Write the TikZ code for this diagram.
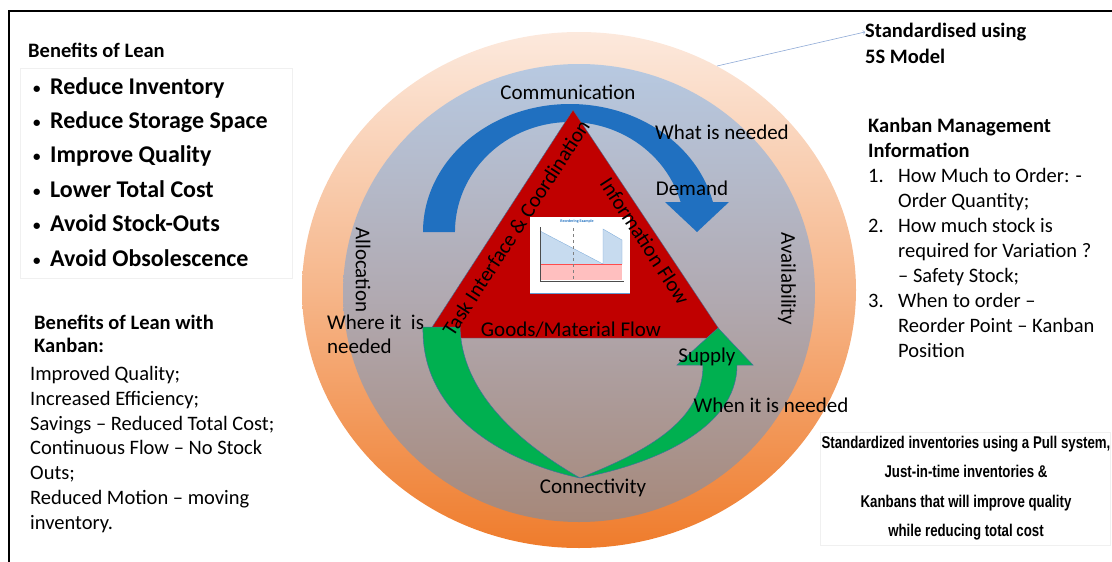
\documentclass[tikz,border=0pt]{standalone}
\usepackage{fontspec}
\setmainfont{Carlito}
\newfontfamily\narrowsans[FakeStretch=0.78]{Liberation Sans}
\usepackage{tikz}
\definecolor{ringtop}{RGB}{252,233,221}
\definecolor{ringmid}{RGB}{246,182,138}
\definecolor{ringbot}{RGB}{239,124,44}
\definecolor{disctop}{RGB}{183,201,225}
\definecolor{discmid}{RGB}{177,170,178}
\definecolor{discbot}{RGB}{166,136,122}
\definecolor{cycleblue}{RGB}{32,112,192}
\definecolor{cyclegreen}{RGB}{0,176,80}
\definecolor{lineblue}{RGB}{65,113,156}
\definecolor{flowred}{RGB}{192,0,0}
\definecolor{pointerblue}{RGB}{143,170,214}
\tikzstyle{lbl} = [inner sep=0pt, font=\fontsize{21}{24}\selectfont]
\tikzstyle{txt} = [inner sep=0pt, anchor=north west, align=left, font=\fontsize{20.5}{24.8}\selectfont]
\tikzstyle{boldtxt} = [txt, font=\fontsize{20.5}{24}\selectfont\bfseries]
\tikzstyle{faint} = [draw=black!6, line width=0.6pt]
\newcommand{\dotitem}{\makebox[17pt][l]{\raisebox{1pt}{\fontsize{15}{15}\selectfont\textbullet}}}

\begin{document}
\begin{tikzpicture}[x=1pt,y=-1pt]
	\useasboundingbox (0,0) rectangle (1112,562);
	\draw[line width=1.6pt] (9,562) -- (9,11) -- (1112,11);
	% rings
	\shade[top color=ringtop, bottom color=ringbot, middle color=ringmid] (579,290) ellipse[x radius=277, y radius=258];
	\shade[top color=disctop, bottom color=discbot, middle color=discmid] (579,293) ellipse[x radius=236, y radius=229];
	% blue arrow
	\fill[cycleblue] (423,232) arc[start angle=180, end angle=346.45, x radius=147, y radius=128] -- (729,202) -- (697,232) -- (665,202) -- (680.6,202) arc[start angle=344.17, end angle=180, x radius=115, y radius=110] -- cycle;
	% triangle
	\filldraw[fill=flowred, draw=lineblue, line width=0.4pt] (573,110) -- (725,338) -- (425,338) -- cycle;
	% reorder chart
	\fill[white] (530,217) rectangle (630,293);
	\draw[cycleblue!70, line width=1pt] (530,293) -- (630,293);
	\fill[red!25] (540,264) rectangle (622,280);
	\fill[cycleblue!25] (540,231) -- (603,264) -- (540,264) -- cycle;
	\fill[cycleblue!25] (603,264) -- (603,229) -- (622,240) -- (622,264) -- cycle;
	\draw[cycleblue!60, line width=0.3pt] (540,231) -- (603,264) -- (603,229) -- (622,240) -- (622,264);
	\draw[red!70, line width=0.4pt] (540,264) -- (622,264);
	\draw[black!50, dashed, line width=0.2pt] (573,228) -- (573,281);
	\draw[black!70, line width=0.4pt] (540,227) -- (540,281) -- (624,281);
	\node[inner sep=0pt, text=cycleblue, font=\fontsize{4}{4}\selectfont\bfseries] (charttitle) at (577,221) {Reordering Example};
	% green arrow
	\filldraw[fill=cyclegreen, draw=lineblue, line width=0.5pt] (423,327) -- (460,327) .. controls (462,398) and (528,448) .. (580,478) .. controls (650,450) and (703,420) .. (703,365) -- (677,365) -- (718,328) -- (753,365) -- (737,365) .. controls (737,430) and (650,465) .. (580,478) .. controls (505,462) and (421,415) .. (423,327) -- cycle;
	% labels on the cycle
	\node[lbl] (comm) at (568,92) {Communication};
	\node[lbl] (whatneed) at (722,132) {What is needed};
	\node[lbl] (demand) at (692,188) {Demand};
	\node[lbl, rotate=-90] (alloc) at (363,270) {Allocation};
	\node[lbl, rotate=-90] (avail) at (787,279) {Availability};
	\node[txt, font=\fontsize{21}{24}\selectfont] (whereneed) at (327,315) {Where it\ \ is\\needed};
	\node[lbl] (goods) at (571,330) {Goods/Material Flow};
	\node[lbl] (supply) at (707,357) {Supply};
	\node[lbl] (whenneed) at (771,405) {When it is needed};
	\node[lbl] (connect) at (593,488) {Connectivity};
	\node[lbl, rotate=57] (task) at (516,228) {Task Interface \& Coordination};
	\node[lbl, rotate=-57] (info) at (645,241) {Information Flow};
	% left side
	\draw[faint] (20,68) rectangle (292,278);
	\node[inner sep=0pt, anchor=west, font=\fontsize{20.5}{24}\selectfont\bfseries] (leanhead) at (28,50) {Benefits of Lean};
	\node[txt, font=\fontsize{24}{34.4}\selectfont\bfseries] (leanlist) at (33,77) {\dotitem Reduce Inventory\\\dotitem Reduce Storage Space\\\dotitem Improve Quality\\\dotitem Lower Total Cost\\\dotitem Avoid Stock-Outs\\\dotitem Avoid Obsolescence};
	\node[boldtxt, font=\fontsize{20.5}{23}\selectfont\bfseries] (kanhead) at (34,315) {Benefits of Lean with\\Kanban:};
	\node[txt] (kanlist) at (30,366) {Improved Quality;\\Increased Efficiency;\\Savings -- Reduced Total Cost;\\Continuous Flow -- No Stock\\Outs;\\Reduced Motion -- moving\\inventory.};
	% right side
	\coordinate (rim) at (717,66);
	\node[inner sep=0pt, anchor=west, font=\fontsize{20.5}{24}\selectfont\bfseries] (stdtop) at (865,32) {Standardised using};
	\node[inner sep=0pt, anchor=west, font=\fontsize{20.5}{24}\selectfont\bfseries] (stdbot) at (865,56) {5S Model};
	\draw[pointerblue, line width=0.6pt, ->] (rim) -- (stdtop.west);
	\node[boldtxt, font=\fontsize{20.5}{25}\selectfont\bfseries] (mgmthead) at (868,118) {Kanban Management\\Information};
	\node[txt, font=\fontsize{20.5}{25}\selectfont] (mgmtlist) at (868,168) {\makebox[30pt][l]{1.}How Much to Order: -\\\hspace*{30pt}Order Quantity;\\\makebox[30pt][l]{2.}How much stock is\\\hspace*{30pt}required for Variation ?\\\hspace*{30pt}-- Safety Stock;\\\makebox[30pt][l]{3.}When to order --\\\hspace*{30pt}Reorder Point -- Kanban\\\hspace*{30pt}Position};
	\draw[faint] (820,432) rectangle (1110,545);
	\node[inner sep=0pt, anchor=north, align=center, font=\fontsize{17}{29.3}\selectfont\narrowsans\bfseries] (pullnote) at (966,436) {Standardized inventories using a Pull system,\\Just-in-time inventories \&\\Kanbans that will improve quality\\while reducing total cost};
\end{tikzpicture}
\end{document}
